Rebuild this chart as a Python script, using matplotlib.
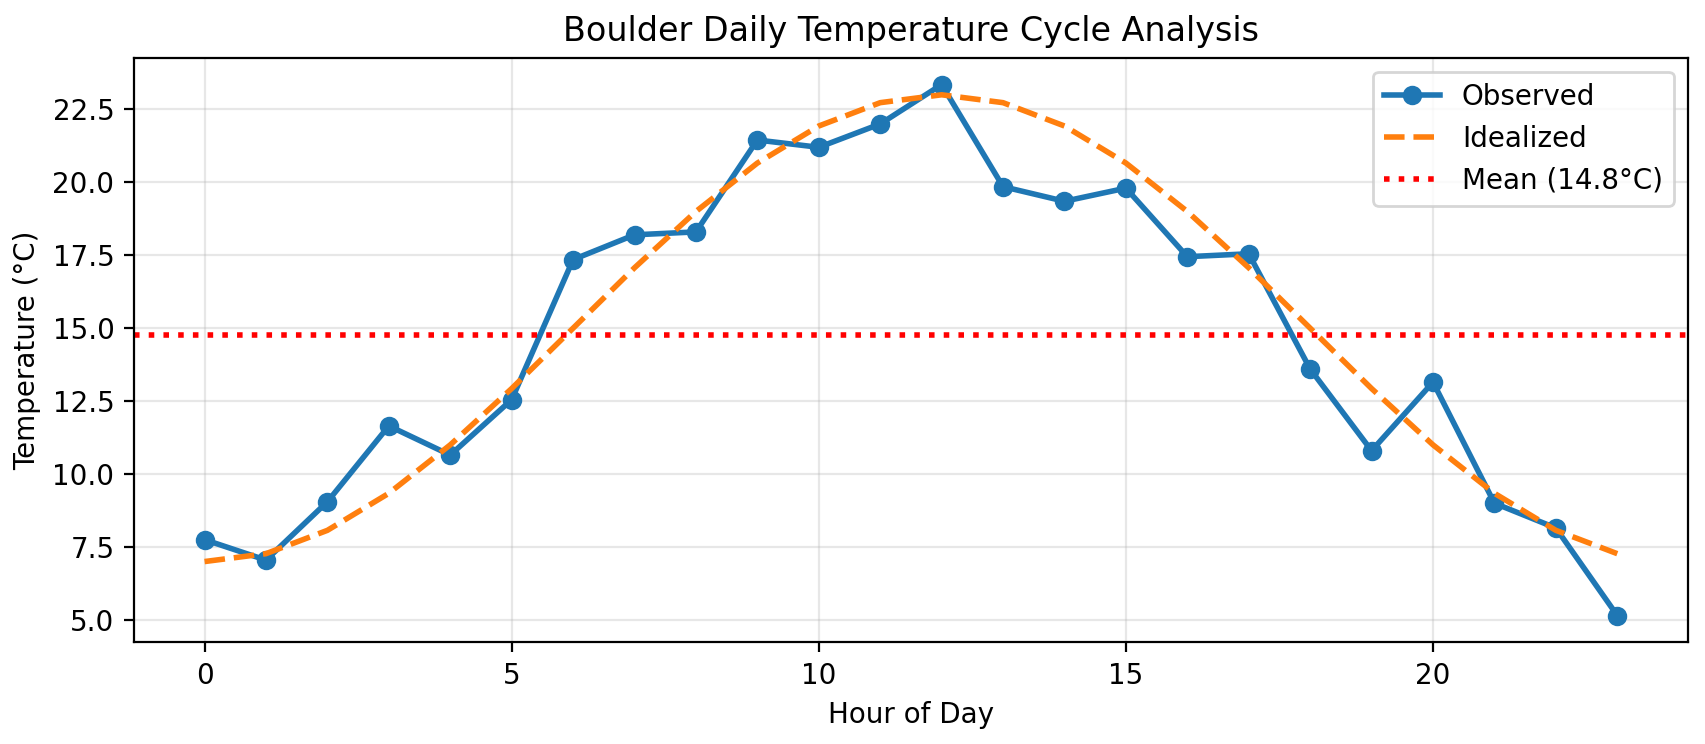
import numpy as np
import matplotlib
matplotlib.use("Agg")
import matplotlib.pyplot as plt

hours = list(range(24))
observed = [7.75, 7.05, 9.05, 11.65, 10.65, 12.55, 17.35, 18.2, 18.3, 21.45, 21.2, 22.0,
            23.35, 19.85, 19.35, 19.8, 17.45, 17.55, 13.6, 10.8, 13.15, 9.0, 8.15, 5.15]
idealized = [7.0, 7.27, 8.07, 9.34, 11.0, 12.93, 15.0, 17.07, 19.0, 20.66, 21.93, 22.73,
             23.0, 22.73, 21.93, 20.66, 19.0, 17.07, 15.0, 12.93, 11.0, 9.34, 8.07, 7.27]

mean_temp = np.mean(observed)

fig, ax = plt.subplots(figsize=(1706 / 200, 744 / 200), dpi=200)
fig.subplots_adjust(left=0.0785, right=0.9894, top=0.922, bottom=0.137)

ax.plot(hours, observed, 'o-', color='#1f77b4', linewidth=2, markersize=6, label='Observed')
ax.plot(hours, idealized, '--', color='#ff7f0e', linewidth=2, label='Idealized')
ax.axhline(mean_temp, color='red', linestyle=':', linewidth=2, label=f'Mean ({mean_temp:.1f}°C)')

ax.set_xlabel('Hour of Day')
ax.set_ylabel('Temperature (°C)')
ax.set_title('Boulder Daily Temperature Cycle Analysis')
ax.grid(True, alpha=0.3)
ax.legend(loc='upper right')

fig.savefig('out.png', dpi=200)
